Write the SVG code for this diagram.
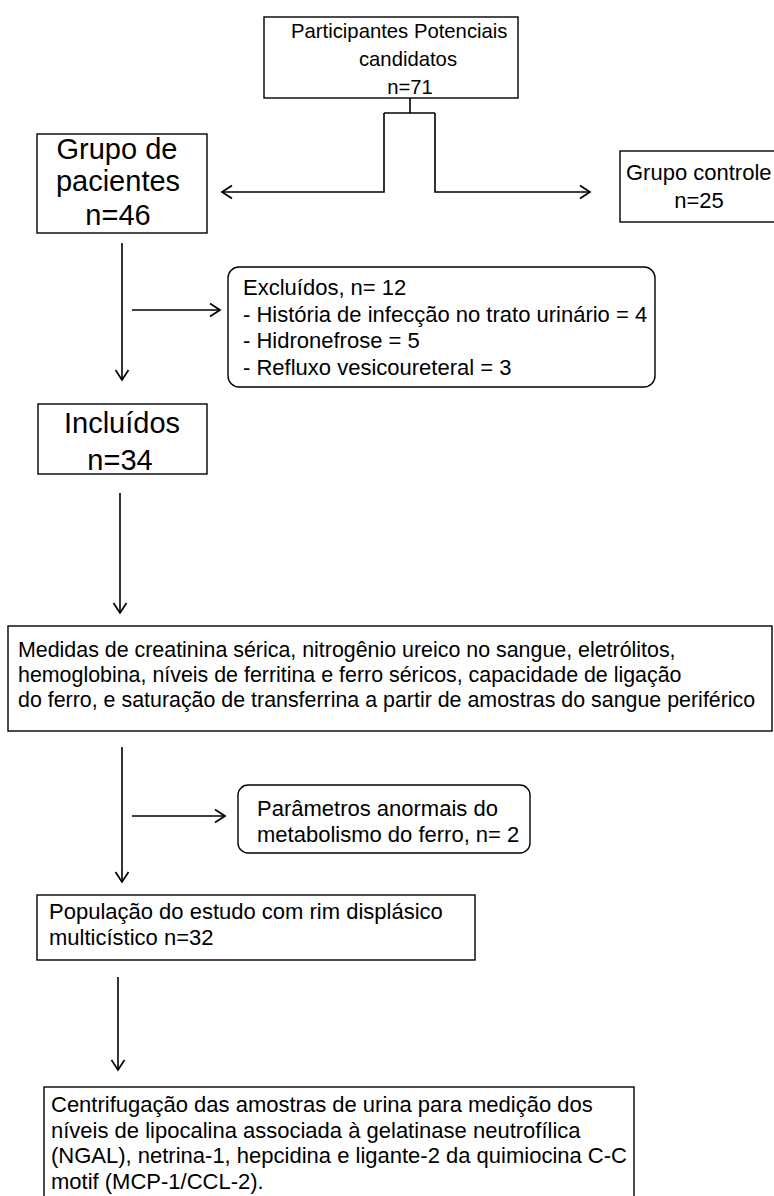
<svg xmlns="http://www.w3.org/2000/svg" width="774" height="1196" viewBox="0 0 774 1196">
<defs>
<marker id="ah" markerWidth="14" markerHeight="16" refX="11" refY="8" orient="auto" markerUnits="userSpaceOnUse">
<path d="M1,1.5 L11,8 L1,14.5" fill="none" stroke="#000" stroke-width="1.7"/>
</marker>
<style>
.box{fill:#fff;stroke:#000;stroke-width:1.4}
.t{font-family:"Liberation Sans",Arial,sans-serif;fill:#000}
.s{font-size:22px}
.m{font-size:21.4px}
.p{font-size:20.3px}
.b{font-size:29px}
.c{stroke:#000;stroke-width:1.6;fill:none}
</style>
</defs>
<rect width="774" height="1196" fill="#fff"/>
<g id="connectors">
<polyline class="c" points="410,98 410,113"/>
<polyline class="c" points="384,113 435,113"/>
<polyline class="c" points="384,113 384,192 222,192" marker-end="url(#ah)"/>
<polyline class="c" points="435,113 435,192 590,192" marker-end="url(#ah)"/>
<line class="c" x1="122" y1="243" x2="122" y2="380" marker-end="url(#ah)"/>
<line class="c" x1="132" y1="310" x2="220" y2="310" marker-end="url(#ah)"/>
<line class="c" x1="120" y1="493" x2="120" y2="613" marker-end="url(#ah)"/>
<line class="c" x1="122" y1="747" x2="122" y2="882" marker-end="url(#ah)"/>
<line class="c" x1="132" y1="816" x2="225" y2="816" marker-end="url(#ah)"/>
<line class="c" x1="118" y1="977" x2="118" y2="1070" marker-end="url(#ah)"/>
</g>
<g id="top">
<rect class="box" x="264" y="17" width="254" height="81"/>
<text class="t p" x="291" y="38">Participantes Potenciais</text>
<text class="t p" text-anchor="middle" x="408" y="66">candidatos</text>
<text class="t p" text-anchor="middle" x="410" y="94">n=71</text>
</g>
<g id="pacientes">
<rect class="box" x="37" y="134" width="170" height="99"/>
<text class="t b" text-anchor="middle" x="117" y="159">Grupo de</text>
<text class="t b" text-anchor="middle" x="118" y="191">pacientes</text>
<text class="t b" text-anchor="middle" x="118" y="225">n=46</text>
</g>
<g id="controle">
<rect class="box" x="620" y="151" width="170" height="71"/>
<text class="t s" x="626" y="180">Grupo controle</text>
<text class="t s" text-anchor="middle" x="699" y="208">n=25</text>
</g>
<g id="excluidos">
<rect class="box" x="228" y="267" width="427" height="120" rx="11"/>
<text class="t s" x="243" y="295">Excluídos, n= 12</text>
<text class="t s" x="243" y="321.5">- História de infecção no trato urinário = 4</text>
<text class="t s" x="243" y="348">- Hidronefrose = 5</text>
<text class="t s" x="243" y="374.5">- Refluxo vesicoureteral = 3</text>
</g>
<g id="incluidos">
<rect class="box" x="38" y="404" width="169" height="70"/>
<text class="t b" text-anchor="middle" x="122" y="433">Incluídos</text>
<text class="t b" text-anchor="middle" x="120" y="470">n=34</text>
</g>
<g id="medidas">
<rect class="box" x="8" y="626" width="764" height="105"/>
<text class="t m" x="18" y="657">Medidas de creatinina sérica, nitrogênio ureico no sangue, eletrólitos,</text>
<text class="t m" x="18" y="682">hemoglobina, níveis de ferritina e ferro séricos, capacidade de ligação</text>
<text class="t m" x="18" y="707">do ferro, e saturação de transferrina a partir de amostras do sangue periférico</text>
</g>
<g id="parametros">
<rect class="box" x="238" y="785" width="292" height="68" rx="10"/>
<text class="t s" x="257" y="816">Parâmetros anormais do</text>
<text class="t s" x="257" y="842">metabolismo do ferro, n= 2</text>
</g>
<g id="populacao">
<rect class="box" x="37" y="895" width="438" height="65"/>
<text class="t s" x="49" y="919">População do estudo com rim displásico</text>
<text class="t s" x="49" y="945">multicístico n=32</text>
</g>
<g id="centrifugacao">
<rect class="box" x="44" y="1087" width="590" height="120"/>
<text class="t s" x="51" y="1112">Centrifugação das amostras de urina para medição dos</text>
<text class="t s" x="51" y="1137.5">níveis de lipocalina associada à gelatinase neutrofílica</text>
<text class="t s" x="51" y="1163">(NGAL), netrina-1, hepcidina e ligante-2 da quimiocina C-C</text>
<text class="t s" x="51" y="1188.5">motif (MCP-1/CCL-2).</text>
</g>
</svg>
